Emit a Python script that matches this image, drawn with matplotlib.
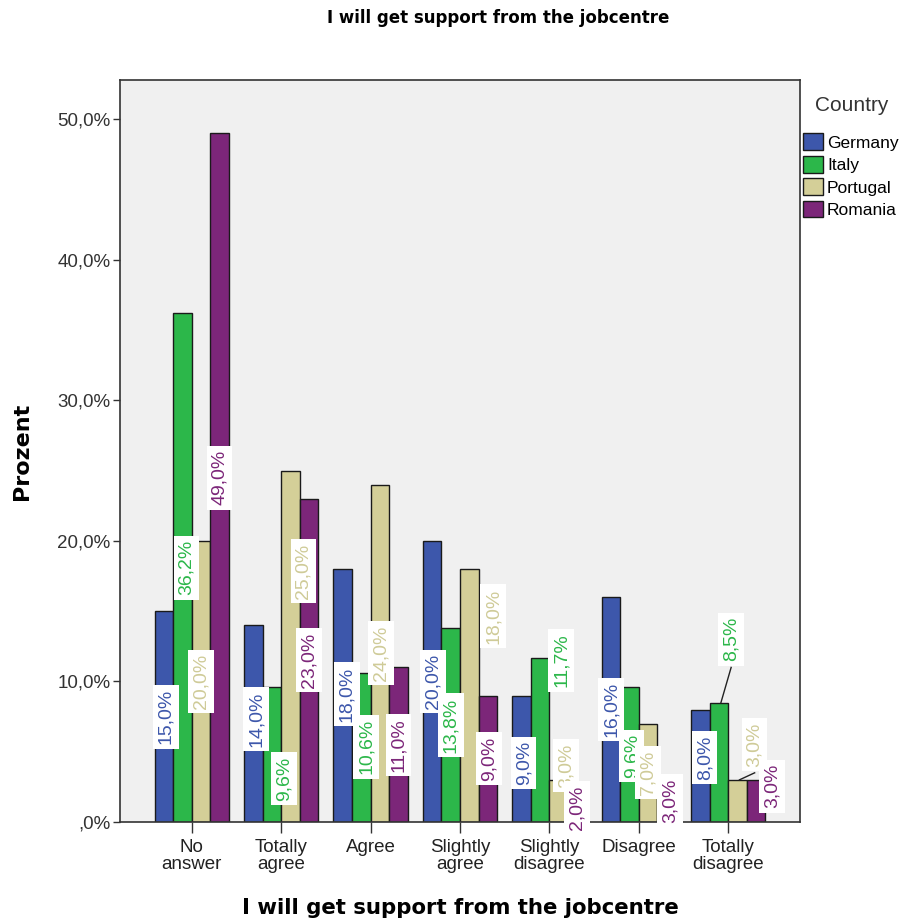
import matplotlib
matplotlib.use("Agg")
import matplotlib.pyplot as plt
import numpy as np
from matplotlib.patches import Patch

categories = ["No\nanswer", "Totally\nagree", "Agree", "Slightly\nagree",
              "Slightly\ndisagree", "Disagree", "Totally\ndisagree"]
countries = ["Germany", "Italy", "Portugal", "Romania"]
germany = [15.0, 14.0, 18.0, 20.0, 9.0, 16.0, 8.0]
italy = [36.2, 9.6, 10.6, 13.8, 11.7, 9.6, 8.5]
portugal = [20.0, 25.0, 24.0, 18.0, 3.0, 7.0, 3.0]
romania = [49.0, 23.0, 11.0, 9.0, 2.0, 3.0, 3.0]
yticks = [0, 10, 20, 30, 40, 50]
ytick_labels = [",0%", "10,0%", "20,0%", "30,0%", "40,0%", "50,0%"]

# label placement (centre height in %, horizontal shift in px)
label_y = [
    [7.5, 7.3, 9.1, 10.0, 4.2, 8.0, 4.6],
    [18.1, 3.1, 5.35, 6.9, 11.5, 4.7, 13.0],
    [10.0, 17.85, 12.0, 14.65, 4.0, 3.5, 5.5],
    [24.5, 11.5, 5.5, 4.5, 1.0, 1.5, 2.55],
]
label_dx_px = [
    [2, 3, 4, 1, 2, 0, 4],
    [4, 12, 5, 0, 21, 2, 12],
    [0, 13, 1, 24, 7, 0, 17],
    [0, 0, 0, 1, 0, 3, 16],
]
leaders = [(1, 6), (2, 6)]

bar_colors = ["#3d57ab", "#2cb74a", "#d4cf98", "#7c2679"]
text_colors = ["#3d57ab", "#2cb74a", "#cfcb98", "#7c2679"]

series = [germany, italy, portugal, romania]

W, H = 905, 921
fig = plt.figure(figsize=(W / 100, H / 100), dpi=100)
ax = fig.add_axes([120 / W, (H - 822) / H, 680 / W, 742 / H])
ax.set_facecolor("#f0f0f0")

x = np.arange(len(categories))
bw = 0.207
px_per_unit = 89.6
for i, (vals, col) in enumerate(zip(series, bar_colors)):
    xs = x + (i - 1.5) * bw
    ax.bar(xs, vals, width=bw, color=col, edgecolor="#1a1a1a", linewidth=1.0, zorder=2)

for i, vals in enumerate(series):
    xs = x + (i - 1.5) * bw
    for j, v in enumerate(vals):
        lx = xs[j] + label_dx_px[i][j] / px_per_unit
        ly = label_y[i][j]
        if (i, j) in leaders:
            ax.plot([xs[j] + 0.02, lx], [v, ly - 2.0], color="#222222", lw=1.0, zorder=3,
                    clip_on=False)
        lab = f"{v:.1f}%".replace(".", ",")
        ax.text(lx, ly, lab, rotation=90, ha="center", va="center",
                fontsize=14, color=text_colors[i], family="Liberation Sans",
                bbox=dict(boxstyle="square,pad=0.22", fc="white", ec="none"),
                zorder=4, clip_on=False)

ax.set_xlim(-0.8, 6.8)
ax.set_ylim(0, 52.8)
ax.set_xticks(x)
ax.set_xticklabels(categories, fontsize=13.5, family="Liberation Sans", color="#222222",
                   linespacing=1.0)
ax.set_yticks(yticks)
ax.set_yticklabels(ytick_labels, fontsize=13.5, family="Liberation Sans", color="#333333")
ax.tick_params(axis="x", length=8, width=1, color="#333333", pad=4)
ax.tick_params(axis="y", length=5, width=1, color="#333333", pad=2)
for s in ax.spines.values():
    s.set_color("#333333")
    s.set_linewidth(1.2)

ax.set_xlabel("I will get support from the jobcentre", fontsize=15.3, fontweight="bold",
              family="DejaVu Sans", labelpad=18)
ax.set_ylabel("Prozent", fontsize=16, fontweight="bold", family="DejaVu Sans", labelpad=18)

fig.text(498 / W, 1 - 18 / H, "I will get support from the jobcentre", ha="center",
         va="center", fontsize=12, fontweight="bold", family="DejaVu Sans")

fig.text(815 / W, 1 - 105 / H, "Country", ha="left", va="center", fontsize=15,
         family="Liberation Sans", color="#333333")
handles = [Patch(facecolor=c, edgecolor="#1a1a1a", label=n) for c, n in zip(bar_colors, countries)]
leg = fig.legend(handles=handles, loc="upper left", bbox_to_anchor=(800 / W, 1 - 130 / H),
                 frameon=False, handlelength=1.15, handleheight=1.1,
                 handletextpad=0.2, labelspacing=0.3, borderaxespad=0, borderpad=0.2,
                 prop={"family": "Liberation Sans", "size": 12.5})

fig.savefig("out.png", dpi=100)
